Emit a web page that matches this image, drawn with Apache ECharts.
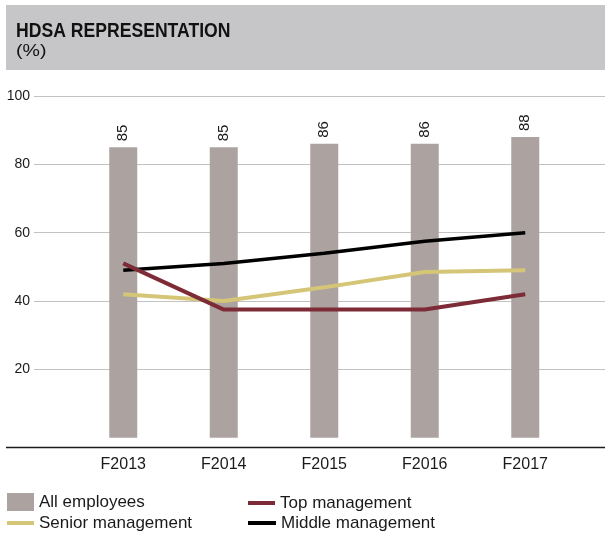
<!DOCTYPE html>
<html>
<head>
<meta charset="utf-8">
<script src="https://cdn.jsdelivr.net/npm/echarts@6/dist/echarts.min.js"></script>
<style>
  html, body { margin: 0; padding: 0; background: #ffffff; }
  #chart { width: 605px; height: 534px; }
</style>
</head>
<body>
<div id="chart"></div>
<script>
// HDSA representation by staff level, financial years F2013–F2017 (%)
const years = ['F2013', 'F2014', 'F2015', 'F2016', 'F2017'];
const allEmployees = [85, 85, 86, 86, 88];
const topManagement = [51, 37.5, 37.5, 37.5, 42];
const seniorManagement = [42, 40, 44, 48.5, 49];
const middleManagement = [49, 51, 54, 57.5, 60];
const yTicks = [0, 20, 40, 60, 80, 100];

const NARROW = '"Liberation Sans Narrow", "Liberation Sans", Arial, sans-serif';
const SANS = '"Liberation Sans", Arial, sans-serif';

const colors = {
  all: '#aca3a1',
  top: '#7d2b37',
  senior: '#d5c577',
  middle: '#000000'
};

const chart = echarts.init(document.getElementById('chart'), null, { renderer: 'canvas' });

const yMin = yTicks[0];
const yMax = yTicks[yTicks.length - 1];
const yStep = yTicks[1] - yTicks[0];

function legendFor(name, left, top, w, h) {
  return {
    left: left, top: top, padding: 0,
    itemWidth: w, itemHeight: h,
    selectedMode: false,
    data: [{ name: name, icon: 'rect' }],
    textStyle: { fontFamily: SANS, fontSize: 17, color: '#1a1a1a', lineHeight: 20 }
  };
}

chart.setOption({
  animation: false,
  backgroundColor: '#ffffff',
  graphic: [
    { type: 'rect', left: 6, top: 5, shape: { width: 599, height: 65 }, style: { fill: '#c6c6c8' }, z: 0 },
    // condensed heading: bold face squeezed horizontally
    { type: 'text', x: 16, y: 21, scaleX: 0.88, style: { text: 'HDSA REPRESENTATION', font: 'bold 20px ' + NARROW, fill: '#111111' } },
    { type: 'text', x: 16, y: 42.5, scaleX: 1.15, style: { text: '(%)', font: '17px ' + NARROW, fill: '#111111' } },
    { type: 'line', shape: { x1: 6, y1: 447.5, x2: 605, y2: 447.5 }, style: { stroke: '#1a1a1a', lineWidth: 1.5 } }
  ],
  legend: [
    legendFor('All employees', 7, 492, 27, 18),
    legendFor('Top management', 248, 493, 27, 4),
    legendFor('Senior management', 7, 513, 27, 4),
    legendFor('Middle management', 248, 513, 28, 4)
  ],
  grid: [
    { left: 34, right: 0, top: 96, bottom: 96.3 },
    { left: 73, right: 29.5, top: 96, bottom: 96.3 }
  ],
  xAxis: [
    { gridIndex: 0, type: 'category', data: years, show: false },
    {
      gridIndex: 1, type: 'category', data: years,
      axisLine: { show: false }, axisTick: { show: false },
      axisLabel: { fontFamily: SANS, fontSize: 16, color: '#1a1a1a', margin: 19 }
    }
  ],
  yAxis: [
    {
      gridIndex: 0, type: 'value', min: yMin, max: yMax, interval: yStep,
      axisLine: { show: false }, axisTick: { show: false },
      axisLabel: {
        fontFamily: NARROW, fontSize: 14, color: '#1a1a1a', margin: 4,
        formatter: v => (v === 0 ? '' : String(v))
      },
      splitLine: { show: true, showMinLine: false, lineStyle: { color: '#c2c2c2', width: 1.2 } }
    },
    {
      gridIndex: 1, type: 'value', min: yMin, max: yMax, interval: yStep,
      show: false, splitLine: { show: false }
    }
  ],
  series: [
    {
      name: 'All employees', type: 'bar', xAxisIndex: 1, yAxisIndex: 1,
      data: allEmployees, barWidth: 28,
      itemStyle: { color: colors.all },
      label: {
        show: true, position: 'top', rotate: 90, distance: 6,
        align: 'left', verticalAlign: 'middle',
        fontFamily: NARROW, fontSize: 15, color: '#1a1a1a'
      }
    },
    {
      name: 'Middle management', type: 'line', xAxisIndex: 1, yAxisIndex: 1,
      data: middleManagement, symbol: 'none',
      lineStyle: { color: colors.middle, width: 3.5 }, itemStyle: { color: colors.middle }
    },
    {
      name: 'Senior management', type: 'line', xAxisIndex: 1, yAxisIndex: 1,
      data: seniorManagement, symbol: 'none',
      lineStyle: { color: colors.senior, width: 4 }, itemStyle: { color: colors.senior }
    },
    {
      name: 'Top management', type: 'line', xAxisIndex: 1, yAxisIndex: 1,
      data: topManagement, symbol: 'none',
      lineStyle: { color: colors.top, width: 4 }, itemStyle: { color: colors.top }
    }
  ]
});
</script>
</body>
</html>
